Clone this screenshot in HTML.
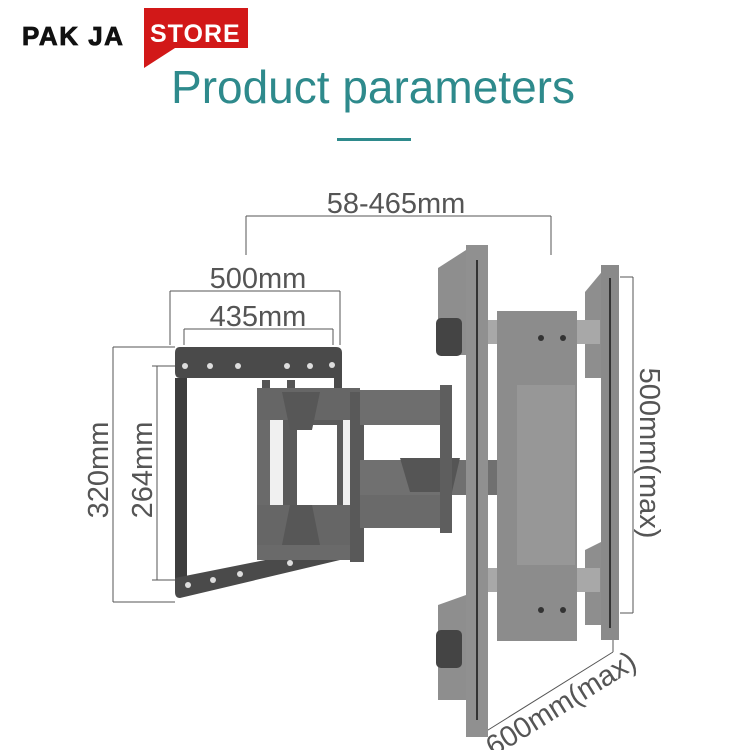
<!DOCTYPE html>
<html><head><meta charset="utf-8"><style>
html,body{margin:0;padding:0;background:#fff;width:750px;height:750px;overflow:hidden}
svg{display:block}
</style></head><body>
<svg width="750" height="750" viewBox="0 0 750 750" xmlns="http://www.w3.org/2000/svg" font-family="Liberation Sans, sans-serif">
<rect width="750" height="750" fill="#fff"/>
<!-- logo -->
<text x="22" y="45" font-size="26" font-weight="bold" fill="#111" letter-spacing="1.5" stroke="#111" stroke-width="0.8">PAK JA</text>
<path d="M144 8 H248 V48 H175 L144 68 Z" fill="#d21818"/>
<text x="150" y="42" font-size="25" font-weight="bold" fill="#fff" letter-spacing="1">STORE</text>
<!-- title -->
<text x="373" y="103" font-size="46" fill="#2e8a8c" text-anchor="middle">Product parameters</text>
<rect x="337" y="138" width="74" height="3" fill="#2e8a8c"/>
<!-- dimension lines -->
<g stroke="#555" stroke-width="1" fill="none">
<path d="M246 216 H551 M246 216 V255 M551 216 V255"/>
<path d="M170 291 H340 M170 291 V345 M340 291 V345"/>
<path d="M184 329 H333 M184 329 V345 M333 329 V345"/>
<path d="M113 347 V602 M113 347 H175 M113 602 H175"/>
<path d="M157 366 V580 M152 366 H175 M152 580 H175"/>
<path d="M633 277 V613 M620 277 H633 M620 613 H633"/>
<path d="M480 735 L613 652 M480 735 V722 M613 652 V640"/>
</g>
<g fill="#555" font-size="29">
<text x="396" y="213" text-anchor="middle">58-465mm</text>
<text x="258" y="288" text-anchor="middle">500mm</text>
<text x="258" y="326" text-anchor="middle">435mm</text>
<text transform="translate(108,470) rotate(-90)" text-anchor="middle">320mm</text>
<text transform="translate(152,470) rotate(-90)" text-anchor="middle">264mm</text>
<text transform="translate(640,453) rotate(90)" text-anchor="middle">500mm(max)</text>
<text transform="translate(566,712) rotate(-32)" text-anchor="middle">600mm(max)</text>
</g>
<!-- VESA frame left -->
<g>
<path d="M180 347 H336 Q342 347 342 353 V378 H180 Q175 378 175 372 V353 Q175 347 180 347Z" fill="#4a4a4a"/>
<rect x="175" y="378" width="12" height="200" fill="#3d3d3d"/>
<rect x="334" y="378" width="8" height="170" fill="#4a4a4a"/>
<path d="M175 578 L340 545 V560 L180 598 Q175 598 175 592Z" fill="#4a4a4a"/>
<g fill="#ddd"><circle cx="185" cy="366" r="3"/><circle cx="210" cy="366" r="3"/><circle cx="238" cy="366" r="3"/><circle cx="287" cy="366" r="3"/><circle cx="310" cy="366" r="3"/><circle cx="332" cy="365" r="3"/>
<circle cx="188" cy="585" r="3"/><circle cx="213" cy="580" r="3"/><circle cx="240" cy="574" r="3"/><circle cx="290" cy="563" r="3"/></g>
<rect x="262" y="380" width="8" height="165" fill="#555"/>
<rect x="287" y="380" width="8" height="160" fill="#555"/>
<!-- arms -->
<path d="M257 388 H360 V560 H257 Z" fill="#6a6a6a"/>
<rect x="270" y="420" width="80" height="90" fill="#fff" opacity="0.9"/>
<rect x="283" y="420" width="60" height="90" fill="#5a5a5a"/>
<rect x="297" y="425" width="40" height="80" fill="#fff"/>
<path d="M257 388 H360 V420 H257Z M257 505 H360 V545 H257Z" fill="#666"/>
<path d="M282 392 H320 L312 430 H290Z M290 505 H312 L320 545 H282Z" fill="#575757"/>
<rect x="350" y="392" width="14" height="170" fill="#595959"/>
<path d="M360 390 H450 V425 H360Z" fill="#6e6e6e"/>
<path d="M360 460 H500 V495 H360Z" fill="#707070"/>
<path d="M400 458 H460 L452 492 H410Z" fill="#555"/>
<path d="M360 495 H450 V528 H360Z" fill="#6a6a6a"/>
<rect x="440" y="385" width="12" height="148" fill="#5e5e5e"/>
</g>
<!-- wall plate -->
<g>
<path d="M438 268 L466 250 V355 H438Z" fill="#8e8e8e"/>
<path d="M438 605 L466 595 V700 H438Z" fill="#8e8e8e"/>
<path d="M585 292 L605 268 V378 H585Z" fill="#8e8e8e"/>
<path d="M585 550 L605 540 V625 H585Z" fill="#8e8e8e"/>
<rect x="480" y="320" width="120" height="24" fill="#a8a8a8"/>
<rect x="480" y="568" width="120" height="24" fill="#a8a8a8"/>
<rect x="497" y="311" width="80" height="330" fill="#8c8c8c"/>
<rect x="517" y="385" width="58" height="180" fill="#979797"/>
<rect x="466" y="245" width="22" height="492" fill="#909090"/>
<rect x="601" y="265" width="18" height="375" fill="#8a8a8a"/>
<g fill="#333"><rect x="476" y="260" width="2" height="460"/><rect x="609" y="278" width="2" height="350"/></g>
<rect x="436" y="318" width="26" height="38" rx="5" fill="#444"/>
<rect x="436" y="630" width="26" height="38" rx="5" fill="#444"/>
<g fill="#333"><circle cx="541" cy="338" r="3"/><circle cx="563" cy="338" r="3"/><circle cx="541" cy="610" r="3"/><circle cx="563" cy="610" r="3"/></g>
</g>
</svg>
</body></html>
